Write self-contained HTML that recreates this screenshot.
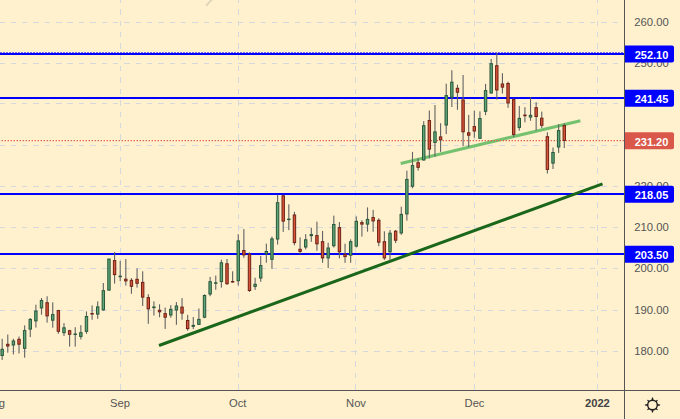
<!DOCTYPE html>
<html><head><meta charset="utf-8"><style>
html,body{margin:0;padding:0;}
body{width:680px;height:419px;overflow:hidden;position:relative;background:#FFF1CE;font-family:"Liberation Sans",sans-serif;}
</style></head><body>
<svg width="680" height="419" viewBox="0 0 680 419" style="position:absolute;left:0;top:0"><g stroke="#D5D8DC" stroke-width="1" stroke-dasharray="5.4 5.96" shape-rendering="crispEdges"><line x1="120.5" y1="0" x2="120.5" y2="390" stroke-dashoffset="2.1"/><line x1="238.5" y1="0" x2="238.5" y2="390" stroke-dashoffset="2.1"/><line x1="355.5" y1="0" x2="355.5" y2="390" stroke-dashoffset="2.1"/><line x1="474.5" y1="0" x2="474.5" y2="390" stroke-dashoffset="2.1"/><line x1="597.5" y1="0" x2="597.5" y2="390" stroke-dashoffset="2.1"/><line x1="0" y1="22.5" x2="624" y2="22.5" stroke-dashoffset="0.7"/><line x1="0" y1="63.5" x2="624" y2="63.5" stroke-dashoffset="0.7"/><line x1="0" y1="103.5" x2="624" y2="103.5" stroke-dashoffset="0.7"/><line x1="0" y1="145.5" x2="624" y2="145.5" stroke-dashoffset="0.7"/><line x1="0" y1="186.5" x2="624" y2="186.5" stroke-dashoffset="0.7"/><line x1="0" y1="227.5" x2="624" y2="227.5" stroke-dashoffset="0.7"/><line x1="0" y1="268.5" x2="624" y2="268.5" stroke-dashoffset="0.7"/><line x1="0" y1="310.5" x2="624" y2="310.5" stroke-dashoffset="0.7"/><line x1="0" y1="351.5" x2="624" y2="351.5" stroke-dashoffset="0.7"/></g><path d="M206.8 5.2 Q209 2.2 212 -0.5" stroke="#E0D7BA" stroke-width="2" fill="none" stroke-linecap="round"/><rect x="0" y="53" width="624" height="2" fill="#0000FF"/><rect x="0" y="97" width="624" height="2" fill="#0000FF"/><rect x="0" y="193" width="624" height="2" fill="#0000FF"/><rect x="0" y="253" width="624" height="2" fill="#0000FF"/><line x1="0" y1="52.5" x2="624" y2="52.5" stroke="#0000FF" stroke-opacity="0.55" stroke-dasharray="2 1" shape-rendering="crispEdges"/><line x1="159" y1="345.5" x2="602.5" y2="183.9" stroke="#1A661A" stroke-width="3.0" stroke-linecap="butt"/><line x1="400.7" y1="163.5" x2="580.4" y2="120.7" stroke="#68BE68" stroke-width="3.1" stroke-opacity="0.92"/><line x1="0" y1="140.7" x2="624" y2="140.7" stroke="#E2624C" stroke-width="1.2" stroke-dasharray="1.4 1.6" stroke-dashoffset="1.4"/><g><rect x="1.61" y="338.8" width="1.1" height="21.1" fill="#636363"/><rect x="0.96" y="349.3" width="2.40" height="6.2" fill="#5EA577" stroke="#28573A" stroke-width="1"/><rect x="7.23" y="334.5" width="1.1" height="18.2" fill="#636363"/><rect x="6.58" y="344.3" width="2.40" height="1.7" fill="#D8553A" stroke="#6E2014" stroke-width="1"/><rect x="12.85" y="338.8" width="1.1" height="15.6" fill="#636363"/><rect x="12.20" y="341" width="2.40" height="4" fill="#5EA577" stroke="#28573A" stroke-width="1"/><rect x="18.47" y="336.5" width="1.1" height="17" fill="#636363"/><rect x="17.82" y="339.3" width="2.40" height="4.9" fill="#D8553A" stroke="#6E2014" stroke-width="1"/><rect x="24.09" y="325.4" width="1.1" height="32.3" fill="#636363"/><rect x="23.44" y="330.6" width="2.40" height="17.7" fill="#5EA577" stroke="#28573A" stroke-width="1"/><rect x="29.71" y="318.1" width="1.1" height="19" fill="#636363"/><rect x="29.06" y="319.4" width="2.40" height="9.7" fill="#5EA577" stroke="#28573A" stroke-width="1"/><rect x="35.33" y="304.7" width="1.1" height="22.9" fill="#636363"/><rect x="34.68" y="311.1" width="2.40" height="9.8" fill="#5EA577" stroke="#28573A" stroke-width="1"/><rect x="40.95" y="298" width="1.1" height="16.7" fill="#636363"/><rect x="40.30" y="300.5" width="2.40" height="7.4" fill="#5EA577" stroke="#28573A" stroke-width="1"/><rect x="46.57" y="296.3" width="1.1" height="26.3" fill="#636363"/><rect x="45.92" y="302.7" width="2.40" height="13.2" fill="#D8553A" stroke="#6E2014" stroke-width="1"/><rect x="52.20" y="302.3" width="1.1" height="25.4" fill="#636363"/><rect x="51.55" y="314.6" width="2.40" height="5.6" fill="#5EA577" stroke="#28573A" stroke-width="1"/><rect x="57.82" y="309.8" width="1.1" height="24" fill="#636363"/><rect x="57.17" y="310.6" width="2.40" height="20.7" fill="#D8553A" stroke="#6E2014" stroke-width="1"/><rect x="63.44" y="323.1" width="1.1" height="12.9" fill="#636363"/><rect x="62.79" y="327.8" width="2.40" height="4.9" fill="#5EA577" stroke="#28573A" stroke-width="1"/><rect x="69.06" y="329.8" width="1.1" height="16.8" fill="#636363"/><rect x="68.41" y="330.7" width="2.40" height="3.6" fill="#D8553A" stroke="#6E2014" stroke-width="1"/><rect x="74.68" y="327.2" width="1.1" height="19.4" fill="#636363"/><rect x="74.03" y="334" width="2.40" height="0.5" fill="#5EA577" stroke="#28573A" stroke-width="1"/><rect x="80.30" y="325.2" width="1.1" height="14.2" fill="#636363"/><rect x="79.65" y="332.7" width="2.40" height="3.7" fill="#5EA577" stroke="#28573A" stroke-width="1"/><rect x="85.92" y="311.4" width="1.1" height="22.4" fill="#636363"/><rect x="85.27" y="316.5" width="2.40" height="14.8" fill="#5EA577" stroke="#28573A" stroke-width="1"/><rect x="91.54" y="305.4" width="1.1" height="14.4" fill="#636363"/><rect x="90.89" y="313.5" width="2.40" height="0.5" fill="#D8553A" stroke="#6E2014" stroke-width="1"/><rect x="97.16" y="301.4" width="1.1" height="17.4" fill="#636363"/><rect x="96.51" y="306.9" width="2.40" height="7.2" fill="#5EA577" stroke="#28573A" stroke-width="1"/><rect x="102.78" y="283" width="1.1" height="27.8" fill="#636363"/><rect x="102.13" y="290.7" width="2.40" height="19.1" fill="#5EA577" stroke="#28573A" stroke-width="1"/><rect x="108.41" y="258.6" width="1.1" height="32" fill="#636363"/><rect x="107.76" y="259.1" width="2.40" height="31" fill="#5EA577" stroke="#28573A" stroke-width="1"/><rect x="114.03" y="251.9" width="1.1" height="31.7" fill="#636363"/><rect x="113.38" y="260.6" width="2.40" height="14" fill="#D8553A" stroke="#6E2014" stroke-width="1"/><rect x="119.65" y="260.8" width="1.1" height="20.4" fill="#636363"/><rect x="119.00" y="276.2" width="2.40" height="0.5" fill="#5EA577" stroke="#28573A" stroke-width="1"/><rect x="125.27" y="259.1" width="1.1" height="26.5" fill="#636363"/><rect x="124.62" y="279.2" width="2.40" height="1.7" fill="#D8553A" stroke="#6E2014" stroke-width="1"/><rect x="130.89" y="278.1" width="1.1" height="15.7" fill="#636363"/><rect x="130.24" y="280.3" width="2.40" height="6" fill="#D8553A" stroke="#6E2014" stroke-width="1"/><rect x="136.51" y="268.4" width="1.1" height="19.2" fill="#636363"/><rect x="135.86" y="279.3" width="2.40" height="4" fill="#D8553A" stroke="#6E2014" stroke-width="1"/><rect x="142.13" y="271.3" width="1.1" height="34.7" fill="#636363"/><rect x="141.48" y="282.4" width="2.40" height="14.7" fill="#D8553A" stroke="#6E2014" stroke-width="1"/><rect x="147.75" y="294.2" width="1.1" height="29.6" fill="#636363"/><rect x="147.10" y="297.6" width="2.40" height="11.2" fill="#D8553A" stroke="#6E2014" stroke-width="1"/><rect x="153.37" y="301.4" width="1.1" height="14.1" fill="#636363"/><rect x="152.72" y="307" width="2.40" height="0.6" fill="#5EA577" stroke="#28573A" stroke-width="1"/><rect x="158.99" y="304.3" width="1.1" height="13" fill="#636363"/><rect x="158.34" y="310.3" width="2.40" height="1.5" fill="#D8553A" stroke="#6E2014" stroke-width="1"/><rect x="164.62" y="307.6" width="1.1" height="21.3" fill="#636363"/><rect x="163.97" y="313.6" width="2.40" height="3.6" fill="#D8553A" stroke="#6E2014" stroke-width="1"/><rect x="170.24" y="305.1" width="1.1" height="12.6" fill="#636363"/><rect x="169.59" y="309.3" width="2.40" height="5.7" fill="#5EA577" stroke="#28573A" stroke-width="1"/><rect x="175.86" y="302.1" width="1.1" height="22.7" fill="#636363"/><rect x="175.21" y="306" width="2.40" height="4" fill="#5EA577" stroke="#28573A" stroke-width="1"/><rect x="181.48" y="298.1" width="1.1" height="21.6" fill="#636363"/><rect x="180.83" y="307.1" width="2.40" height="6" fill="#D8553A" stroke="#6E2014" stroke-width="1"/><rect x="187.10" y="314.9" width="1.1" height="15.8" fill="#636363"/><rect x="186.45" y="320.5" width="2.40" height="8.1" fill="#D8553A" stroke="#6E2014" stroke-width="1"/><rect x="192.72" y="317" width="1.1" height="12.1" fill="#636363"/><rect x="192.07" y="325.4" width="2.40" height="0.9" fill="#5EA577" stroke="#28573A" stroke-width="1"/><rect x="198.34" y="308.5" width="1.1" height="16.4" fill="#636363"/><rect x="197.69" y="319.4" width="2.40" height="5" fill="#5EA577" stroke="#28573A" stroke-width="1"/><rect x="203.96" y="294.3" width="1.1" height="23.9" fill="#636363"/><rect x="203.31" y="295.5" width="2.40" height="21.7" fill="#5EA577" stroke="#28573A" stroke-width="1"/><rect x="209.58" y="276.9" width="1.1" height="19.3" fill="#636363"/><rect x="208.93" y="281.7" width="2.40" height="12.3" fill="#5EA577" stroke="#28573A" stroke-width="1"/><rect x="215.20" y="275.6" width="1.1" height="14.2" fill="#636363"/><rect x="214.55" y="282.8" width="2.40" height="0.5" fill="#5EA577" stroke="#28573A" stroke-width="1"/><rect x="220.83" y="259.7" width="1.1" height="27.9" fill="#636363"/><rect x="220.18" y="262.8" width="2.40" height="18.7" fill="#5EA577" stroke="#28573A" stroke-width="1"/><rect x="226.45" y="259" width="1.1" height="25.8" fill="#636363"/><rect x="225.80" y="263.8" width="2.40" height="19.9" fill="#D8553A" stroke="#6E2014" stroke-width="1"/><rect x="232.07" y="271.3" width="1.1" height="11.4" fill="#636363"/><rect x="231.42" y="281.5" width="2.40" height="0.5" fill="#D8553A" stroke="#6E2014" stroke-width="1"/><rect x="237.69" y="234.2" width="1.1" height="51.3" fill="#636363"/><rect x="237.04" y="240.9" width="2.40" height="39.8" fill="#5EA577" stroke="#28573A" stroke-width="1"/><rect x="243.31" y="229.1" width="1.1" height="28.7" fill="#636363"/><rect x="242.66" y="250.5" width="2.40" height="4.4" fill="#D8553A" stroke="#6E2014" stroke-width="1"/><rect x="248.93" y="252.4" width="1.1" height="39.5" fill="#636363"/><rect x="248.28" y="254.2" width="2.40" height="36.3" fill="#D8553A" stroke="#6E2014" stroke-width="1"/><rect x="254.55" y="277.7" width="1.1" height="12.2" fill="#636363"/><rect x="253.90" y="284.3" width="2.40" height="2.1" fill="#5EA577" stroke="#28573A" stroke-width="1"/><rect x="260.17" y="255.9" width="1.1" height="25.9" fill="#636363"/><rect x="259.52" y="265.6" width="2.40" height="12.4" fill="#5EA577" stroke="#28573A" stroke-width="1"/><rect x="265.79" y="243.6" width="1.1" height="19.1" fill="#636363"/><rect x="265.14" y="251.5" width="2.40" height="2.2" fill="#5EA577" stroke="#28573A" stroke-width="1"/><rect x="271.41" y="236.6" width="1.1" height="32.2" fill="#636363"/><rect x="270.76" y="238.9" width="2.40" height="20.4" fill="#5EA577" stroke="#28573A" stroke-width="1"/><rect x="277.04" y="194.7" width="1.1" height="49.8" fill="#636363"/><rect x="276.39" y="202.7" width="2.40" height="36.3" fill="#5EA577" stroke="#28573A" stroke-width="1"/><rect x="282.66" y="194.7" width="1.1" height="37.2" fill="#636363"/><rect x="282.01" y="195.8" width="2.40" height="25.3" fill="#D8553A" stroke="#6E2014" stroke-width="1"/><rect x="288.28" y="204.3" width="1.1" height="25.9" fill="#636363"/><rect x="287.63" y="219.1" width="2.40" height="0.5" fill="#5EA577" stroke="#28573A" stroke-width="1"/><rect x="293.90" y="211.8" width="1.1" height="33.5" fill="#636363"/><rect x="293.25" y="215" width="2.40" height="27.6" fill="#D8553A" stroke="#6E2014" stroke-width="1"/><rect x="299.52" y="237.4" width="1.1" height="16.8" fill="#636363"/><rect x="298.87" y="249.3" width="2.40" height="2.1" fill="#D8553A" stroke="#6E2014" stroke-width="1"/><rect x="305.14" y="234.1" width="1.1" height="15.3" fill="#636363"/><rect x="304.49" y="239.8" width="2.40" height="7.2" fill="#5EA577" stroke="#28573A" stroke-width="1"/><rect x="310.76" y="227.8" width="1.1" height="14" fill="#636363"/><rect x="310.11" y="234.6" width="2.40" height="1" fill="#5EA577" stroke="#28573A" stroke-width="1"/><rect x="316.38" y="221.7" width="1.1" height="29.1" fill="#636363"/><rect x="315.73" y="235.6" width="2.40" height="8.2" fill="#D8553A" stroke="#6E2014" stroke-width="1"/><rect x="322.00" y="230.9" width="1.1" height="31.9" fill="#636363"/><rect x="321.35" y="241.7" width="2.40" height="16.2" fill="#D8553A" stroke="#6E2014" stroke-width="1"/><rect x="327.62" y="242.7" width="1.1" height="25.3" fill="#636363"/><rect x="326.97" y="248" width="2.40" height="9.9" fill="#5EA577" stroke="#28573A" stroke-width="1"/><rect x="333.25" y="215.6" width="1.1" height="31.9" fill="#636363"/><rect x="332.60" y="224.5" width="2.40" height="21.2" fill="#5EA577" stroke="#28573A" stroke-width="1"/><rect x="338.87" y="222.1" width="1.1" height="36.3" fill="#636363"/><rect x="338.22" y="227.6" width="2.40" height="24.2" fill="#D8553A" stroke="#6E2014" stroke-width="1"/><rect x="344.49" y="243.7" width="1.1" height="19.1" fill="#636363"/><rect x="343.84" y="254.3" width="2.40" height="2.3" fill="#D8553A" stroke="#6E2014" stroke-width="1"/><rect x="350.11" y="239.3" width="1.1" height="23.5" fill="#636363"/><rect x="349.46" y="241.7" width="2.40" height="13.5" fill="#5EA577" stroke="#28573A" stroke-width="1"/><rect x="355.73" y="216.4" width="1.1" height="31.1" fill="#636363"/><rect x="355.08" y="221.3" width="2.40" height="24.8" fill="#5EA577" stroke="#28573A" stroke-width="1"/><rect x="361.35" y="220.2" width="1.1" height="16.4" fill="#636363"/><rect x="360.70" y="222.6" width="2.40" height="1.5" fill="#D8553A" stroke="#6E2014" stroke-width="1"/><rect x="366.97" y="207.4" width="1.1" height="24.3" fill="#636363"/><rect x="366.32" y="219.4" width="2.40" height="4.7" fill="#5EA577" stroke="#28573A" stroke-width="1"/><rect x="372.59" y="209.9" width="1.1" height="21.8" fill="#636363"/><rect x="371.94" y="217.5" width="2.40" height="3.4" fill="#D8553A" stroke="#6E2014" stroke-width="1"/><rect x="378.21" y="218.3" width="1.1" height="27.9" fill="#636363"/><rect x="377.56" y="220.3" width="2.40" height="21.9" fill="#D8553A" stroke="#6E2014" stroke-width="1"/><rect x="383.83" y="231.3" width="1.1" height="28.6" fill="#636363"/><rect x="383.18" y="241.7" width="2.40" height="16.2" fill="#D8553A" stroke="#6E2014" stroke-width="1"/><rect x="389.46" y="230" width="1.1" height="30.9" fill="#636363"/><rect x="388.81" y="233.2" width="2.40" height="18.6" fill="#5EA577" stroke="#28573A" stroke-width="1"/><rect x="395.08" y="230" width="1.1" height="13.1" fill="#636363"/><rect x="394.43" y="231.2" width="2.40" height="9" fill="#D8553A" stroke="#6E2014" stroke-width="1"/><rect x="400.70" y="206.7" width="1.1" height="28.1" fill="#636363"/><rect x="400.05" y="214.4" width="2.40" height="18.5" fill="#5EA577" stroke="#28573A" stroke-width="1"/><rect x="406.32" y="170.7" width="1.1" height="49.9" fill="#636363"/><rect x="405.67" y="179.4" width="2.40" height="34.5" fill="#5EA577" stroke="#28573A" stroke-width="1"/><rect x="411.94" y="151.9" width="1.1" height="36.4" fill="#636363"/><rect x="411.29" y="165.6" width="2.40" height="20.6" fill="#5EA577" stroke="#28573A" stroke-width="1"/><rect x="417.56" y="158.4" width="1.1" height="12.2" fill="#636363"/><rect x="416.91" y="162.7" width="2.40" height="4.6" fill="#D8553A" stroke="#6E2014" stroke-width="1"/><rect x="423.18" y="121.2" width="1.1" height="39.3" fill="#636363"/><rect x="422.53" y="125.7" width="2.40" height="34.3" fill="#5EA577" stroke="#28573A" stroke-width="1"/><rect x="428.80" y="110.5" width="1.1" height="47.9" fill="#636363"/><rect x="428.15" y="120.6" width="2.40" height="28.5" fill="#D8553A" stroke="#6E2014" stroke-width="1"/><rect x="434.42" y="105" width="1.1" height="51.6" fill="#636363"/><rect x="433.77" y="131.9" width="2.40" height="10.5" fill="#5EA577" stroke="#28573A" stroke-width="1"/><rect x="440.04" y="123.2" width="1.1" height="28.7" fill="#636363"/><rect x="439.39" y="136.9" width="2.40" height="2.9" fill="#D8553A" stroke="#6E2014" stroke-width="1"/><rect x="445.67" y="83.7" width="1.1" height="50.4" fill="#636363"/><rect x="445.02" y="95.6" width="2.40" height="29.4" fill="#5EA577" stroke="#28573A" stroke-width="1"/><rect x="451.29" y="70.2" width="1.1" height="36.8" fill="#636363"/><rect x="450.64" y="82.2" width="2.40" height="15" fill="#5EA577" stroke="#28573A" stroke-width="1"/><rect x="456.91" y="84.7" width="1.1" height="25.1" fill="#636363"/><rect x="456.26" y="88.3" width="2.40" height="3.9" fill="#D8553A" stroke="#6E2014" stroke-width="1"/><rect x="462.53" y="75" width="1.1" height="71.2" fill="#636363"/><rect x="461.88" y="100" width="2.40" height="31.8" fill="#D8553A" stroke="#6E2014" stroke-width="1"/><rect x="468.15" y="114.9" width="1.1" height="32.1" fill="#636363"/><rect x="467.50" y="132.8" width="2.40" height="2.4" fill="#D8553A" stroke="#6E2014" stroke-width="1"/><rect x="473.77" y="110.5" width="1.1" height="27.2" fill="#636363"/><rect x="473.12" y="126.6" width="2.40" height="4.4" fill="#D8553A" stroke="#6E2014" stroke-width="1"/><rect x="479.39" y="111.3" width="1.1" height="27.5" fill="#636363"/><rect x="478.74" y="118.5" width="2.40" height="19.8" fill="#5EA577" stroke="#28573A" stroke-width="1"/><rect x="485.01" y="83.9" width="1.1" height="31.3" fill="#636363"/><rect x="484.36" y="90.6" width="2.40" height="20.7" fill="#5EA577" stroke="#28573A" stroke-width="1"/><rect x="490.63" y="59" width="1.1" height="34.5" fill="#636363"/><rect x="489.98" y="63.7" width="2.40" height="29.3" fill="#5EA577" stroke="#28573A" stroke-width="1"/><rect x="496.25" y="52.8" width="1.1" height="46.8" fill="#636363"/><rect x="495.60" y="65.7" width="2.40" height="24.3" fill="#D8553A" stroke="#6E2014" stroke-width="1"/><rect x="501.88" y="73.2" width="1.1" height="20.3" fill="#636363"/><rect x="501.23" y="84" width="2.40" height="3.1" fill="#D8553A" stroke="#6E2014" stroke-width="1"/><rect x="507.50" y="81.7" width="1.1" height="26.1" fill="#636363"/><rect x="506.85" y="83.5" width="2.40" height="19.5" fill="#D8553A" stroke="#6E2014" stroke-width="1"/><rect x="513.12" y="98.5" width="1.1" height="38.5" fill="#636363"/><rect x="512.47" y="99.6" width="2.40" height="34.8" fill="#D8553A" stroke="#6E2014" stroke-width="1"/><rect x="518.74" y="106" width="1.1" height="24.7" fill="#636363"/><rect x="518.09" y="118.4" width="2.40" height="9" fill="#5EA577" stroke="#28573A" stroke-width="1"/><rect x="524.36" y="107.2" width="1.1" height="15.1" fill="#636363"/><rect x="523.71" y="115.1" width="2.40" height="0.6" fill="#D8553A" stroke="#6E2014" stroke-width="1"/><rect x="529.98" y="97.3" width="1.1" height="23.5" fill="#636363"/><rect x="529.33" y="115.3" width="2.40" height="1.8" fill="#5EA577" stroke="#28573A" stroke-width="1"/><rect x="535.60" y="102.2" width="1.1" height="28.2" fill="#636363"/><rect x="534.95" y="107.7" width="2.40" height="8.8" fill="#D8553A" stroke="#6E2014" stroke-width="1"/><rect x="541.22" y="111.6" width="1.1" height="16.4" fill="#636363"/><rect x="540.57" y="118.2" width="2.40" height="7.1" fill="#D8553A" stroke="#6E2014" stroke-width="1"/><rect x="546.84" y="132.3" width="1.1" height="41.2" fill="#636363"/><rect x="546.19" y="136.7" width="2.40" height="32.7" fill="#D8553A" stroke="#6E2014" stroke-width="1"/><rect x="552.46" y="147.5" width="1.1" height="21.5" fill="#636363"/><rect x="551.81" y="152.5" width="2.40" height="10.6" fill="#5EA577" stroke="#28573A" stroke-width="1"/><rect x="558.09" y="124.2" width="1.1" height="28.7" fill="#636363"/><rect x="557.43" y="130.6" width="2.40" height="16.4" fill="#5EA577" stroke="#28573A" stroke-width="1"/><rect x="563.71" y="123.3" width="1.1" height="24.7" fill="#636363"/><rect x="563.06" y="125.6" width="2.40" height="14.8" fill="#D8553A" stroke="#6E2014" stroke-width="1"/></g><rect x="624" y="0" width="1" height="419" fill="#555"/><rect x="0" y="390" width="680" height="1" fill="#555"/><g font-family="Liberation Sans, sans-serif" font-size="11.3" fill="#555"><text x="651.5" y="26.0" text-anchor="middle">260.00</text><text x="651.5" y="67.0" text-anchor="middle">250.00</text><text x="651.5" y="190.0" text-anchor="middle">220.00</text><text x="651.5" y="231.0" text-anchor="middle">210.00</text><text x="651.5" y="272.0" text-anchor="middle">200.00</text><text x="651.5" y="313.6" text-anchor="middle">190.00</text><text x="651.5" y="354.6" text-anchor="middle">180.00</text></g><g font-family="Liberation Sans, sans-serif" font-size="11.5"><path d="M625 45.6 H672 a2 2 0 0 1 2 2 V60.6 a2 2 0 0 1 -2 2 H625 Z" fill="#0000FF"/><text x="651.5" y="59.00" text-anchor="middle" font-weight="bold" fill="#FFFFFF" font-size="11">252.10</text><path d="M625 89.65 H672 a2 2 0 0 1 2 2 V104.65 a2 2 0 0 1 -2 2 H625 Z" fill="#0000FF"/><text x="651.5" y="103.05" text-anchor="middle" font-weight="bold" fill="#FFFFFF" font-size="11">241.45</text><path d="M625 132.35 H672 a2 2 0 0 1 2 2 V147.35 a2 2 0 0 1 -2 2 H625 Z" fill="#D9584A"/><text x="651.5" y="145.75" text-anchor="middle" font-weight="bold" fill="#FFFFFF" font-size="11">231.20</text><path d="M625 185.65 H672 a2 2 0 0 1 2 2 V200.65 a2 2 0 0 1 -2 2 H625 Z" fill="#0000FF"/><text x="651.5" y="199.05" text-anchor="middle" font-weight="bold" fill="#FFFFFF" font-size="11">218.05</text><path d="M625 245.65 H672 a2 2 0 0 1 2 2 V260.65 a2 2 0 0 1 -2 2 H625 Z" fill="#0000FF"/><text x="651.5" y="259.05" text-anchor="middle" font-weight="bold" fill="#FFFFFF" font-size="11">203.50</text></g><g font-family="Liberation Sans, sans-serif" font-size="11.2" fill="#555"><text x="-5" y="407.4" text-anchor="middle">Aug</text><text x="120" y="407.4" text-anchor="middle">Sep</text><text x="237.7" y="407.4" text-anchor="middle">Oct</text><text x="356" y="407.4" text-anchor="middle">Nov</text><text x="474.5" y="407.4" text-anchor="middle">Dec</text><text x="597.4" y="407.4" text-anchor="middle" font-weight="bold" fill="#444">2022</text></g><g transform="translate(652.5 405)" fill="#1E1E1E"><circle cx="0" cy="0" r="4.8" fill="none" stroke="#1E1E1E" stroke-width="1.4"/><path d="M-1.1 -4.6 L-0.5 -7.6 L0.5 -7.6 L1.1 -4.6 Z" transform="rotate(0)"/><path d="M-0.8 -4.8 L-0.4 -7.2 L0.4 -7.2 L0.8 -4.8 Z" transform="rotate(45)"/><path d="M-1.1 -4.6 L-0.5 -7.6 L0.5 -7.6 L1.1 -4.6 Z" transform="rotate(90)"/><path d="M-0.8 -4.8 L-0.4 -7.2 L0.4 -7.2 L0.8 -4.8 Z" transform="rotate(135)"/><path d="M-1.1 -4.6 L-0.5 -7.6 L0.5 -7.6 L1.1 -4.6 Z" transform="rotate(180)"/><path d="M-0.8 -4.8 L-0.4 -7.2 L0.4 -7.2 L0.8 -4.8 Z" transform="rotate(225)"/><path d="M-1.1 -4.6 L-0.5 -7.6 L0.5 -7.6 L1.1 -4.6 Z" transform="rotate(270)"/><path d="M-0.8 -4.8 L-0.4 -7.2 L0.4 -7.2 L0.8 -4.8 Z" transform="rotate(315)"/></g></svg>
</body></html>
